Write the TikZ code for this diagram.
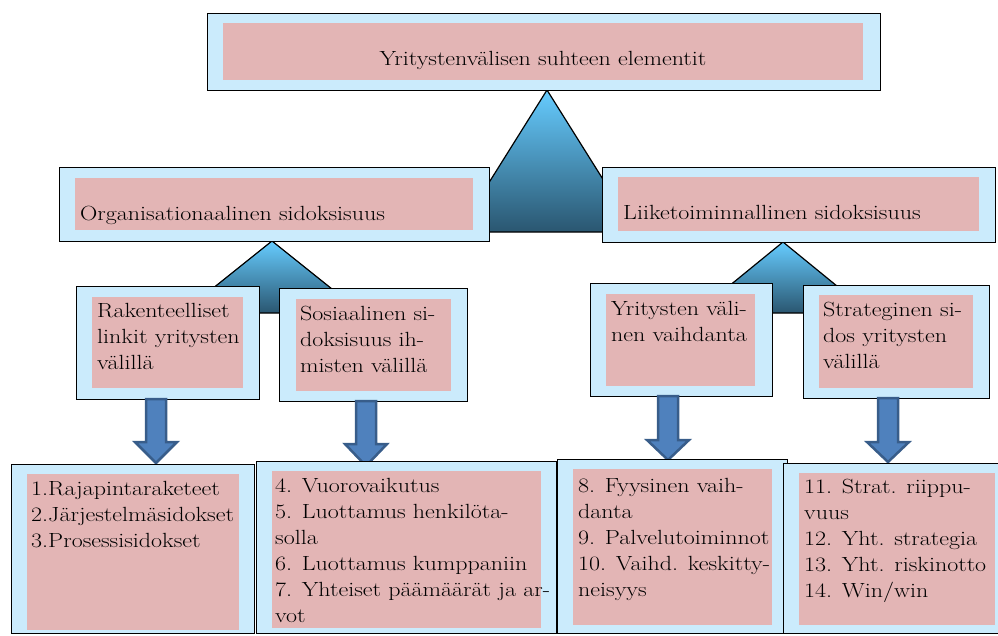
\documentclass[tikz,border=0pt]{standalone}
\usepackage{fontspec}
\setmainfont{Latin Modern Roman}[FakeStretch=1.17]
\definecolor{boxblue}{HTML}{CBEBFC}
\definecolor{boxpink}{HTML}{E3B5B5}
\definecolor{arrfill}{HTML}{4F81BD}
\definecolor{arrline}{HTML}{385D8A}
\definecolor{trtop}{HTML}{66CCFF}
\definecolor{trbot}{HTML}{2A5670}
\newcommand{\blockarr}[4]{% x, top y, head y, tip y
  \filldraw[arrfill,draw=arrline,line width=2.5pt,line join=miter]
    (#1-10,#2)--(#1+10,#2)--(#1+10,#3)--(#1+21,#3)--(#1,#4)--(#1-21,#3)--(#1-10,#3)--cycle;}
\begin{document}
\begin{tikzpicture}[x=1pt,y=-1pt,
  outer/.style={draw=black,line width=1.4pt,fill=boxblue,anchor=north west,inner sep=0},
  inner/.style={fill=boxpink,anchor=north west,inner sep=0},
  txt/.style={anchor=north west,inner sep=0,align=left,font=\fontsize{20.5}{26}\selectfont},
  tri/.style={draw=black,line width=1.2pt,top color=trtop,bottom color=trbot}]
\useasboundingbox (0,0) rectangle (998,635);
% triangles behind the boxes
\draw[tri](547,90)--(636,232)--(458,232)--cycle;
\draw[tri](272,241)--(362,313)--(182,313)--cycle;
\draw[tri](783,242)--(870,313)--(696,313)--cycle;
% top
\node[outer,minimum width=673,minimum height=77](top)at(207,13){};
\node[inner,minimum width=640,minimum height=57](topin)at(223,23){};
\node[txt,anchor=base](toptext)at(543,65){Yritystenvälisen suhteen elementit};
% second level
\node[outer,minimum width=430,minimum height=74](org)at(59,167){};
\node[inner,minimum width=398,minimum height=52](orgin)at(75,178){};
\node[txt](orgtext)at(80,206){Organisationaalinen sidoksisuus};
\node[outer,minimum width=393,minimum height=75](liik)at(602,167){};
\node[inner,minimum width=361,minimum height=54](liikin)at(618,177){};
\node[txt](liiktext)at(623,205){Liiketoiminnallinen sidoksisuus};
% third level
\node[outer,minimum width=183,minimum height=113](rak)at(76,286){};
\node[inner,minimum width=151,minimum height=91](rakin)at(92,297){};
\node[txt](raktext)at(97,303){Rakenteelliset\\linkit yritysten\\välillä};
\node[outer,minimum width=188,minimum height=113](sos)at(279,288){};
\node[inner,minimum width=155,minimum height=92](sosin)at(296,299){};
\node[txt](sostext)at(300,306){Sosiaalinen si-\\doksisuus ih-\\misten välillä};
\node[outer,minimum width=182,minimum height=113](yri)at(590,283){};
\node[inner,minimum width=149,minimum height=92](yriin)at(606,294){};
\node[txt](yritext)at(611,301){Yritysten väli-\\nen vaihdanta};
\node[outer,minimum width=186,minimum height=113](str)at(803,285){};
\node[inner,minimum width=154,minimum height=93](strin)at(819,295){};
\node[txt](strtext)at(823,302){Strateginen si-\\dos yritysten\\välillä};
% arrows
\blockarr{156}{399}{442}{463}
\blockarr{366}{401}{444}{466}
\blockarr{668}{396}{440}{460}
\blockarr{888}{398}{442}{462}
% bottom boxes
\node[outer,minimum width=243,minimum height=169](b1)at(11,464){};
\node[inner,minimum width=212,minimum height=156](b1in)at(27,474){};
\node[txt](b1text)at(31,481){1.Rajapintaraketeet\\2.Järjestelmäsidokset\\3.Prosessisidokset};
\node[outer,minimum width=300,minimum height=172](b2)at(256,461){};
\node[inner,minimum width=269,minimum height=157](b2in)at(272,471){};
\node[txt](b2text)at(275,478){4. Vuorovaikutus\\5. Luottamus henkilöta-\\solla\\6. Luottamus kumppaniin\\7. Yhteiset päämäärät ja ar-\\vot};
\node[outer,minimum width=230,minimum height=174](b3)at(557,459){};
\node[inner,minimum width=199,minimum height=156](b3in)at(573,469){};
\node[txt](b3text)at(578,478){8. Fyysinen vaih-\\danta\\9. Palvelutoiminnot\\10. Vaihd. keskitty-\\neisyys};
\node[outer,minimum width=220,minimum height=170](b4)at(783,463){};
\node[inner,minimum width=196,minimum height=152](b4in)at(799,473){};
\node[txt](b4text)at(804,479){11. Strat. riippu-\\vuus\\12. Yht. strategia\\13. Yht. riskinotto\\14. Win/win};
\end{tikzpicture}
\end{document}
